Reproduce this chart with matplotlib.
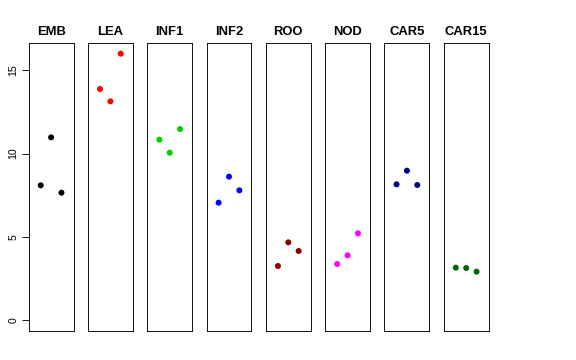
import matplotlib
matplotlib.use("Agg")
import matplotlib.pyplot as plt

plt.rcParams['font.family'] = ['Liberation Sans', 'DejaVu Sans']

samples = ["EMB", "LEA", "INF1", "INF2", "ROO", "NOD", "CAR5", "CAR15"]
colors = ["#000000", "#FF0000", "#00CD00", "#0000FF", "#8B0000", "#FF00FF", "#00008B", "#006400"]
replicates = [1, 2, 3]
values = [
    [8.10, 10.98, 7.66],
    [13.88, 13.14, 16.00],
    [10.84, 10.06, 11.48],
    [7.06, 8.62, 7.80],
    [3.26, 4.68, 4.16],
    [3.38, 3.90, 5.22],
    [8.16, 8.98, 8.12],
    [3.16, 3.14, 2.92],
]
yticks = [0, 5, 10, 15]

W, H = 576, 360
fig = plt.figure(figsize=(W / 72, H / 72), dpi=72)

left0 = 28.7
pw = 44.8
step = 59.3
top = 43.0
bottom = 331.0

for i, (name, col, vals) in enumerate(zip(samples, colors, values)):
    x0 = left0 + i * step
    ax = fig.add_axes([x0 / W, 1 - bottom / H, pw / W, (bottom - top) / H])
    ax.scatter(replicates, vals, s=36, color=col, edgecolors='none', zorder=3)
    ax.set_xlim(-0.16, 4.16)
    ax.set_ylim(-0.64, 16.64)
    ax.set_xticks([])
    for sp in ax.spines.values():
        sp.set_linewidth(0.9)
        sp.set_color('black')
    ax.set_title(name, fontsize=13, fontweight='bold', pad=8)
    if i == 0:
        ax.set_yticks(yticks)
        ax.set_yticklabels([str(t) for t in yticks], rotation=90, va='center', fontsize=10.5)
        ax.tick_params(axis='y', length=7, width=0.9, pad=3)
    else:
        ax.set_yticks([])

fig.savefig("out.png", dpi=72)
